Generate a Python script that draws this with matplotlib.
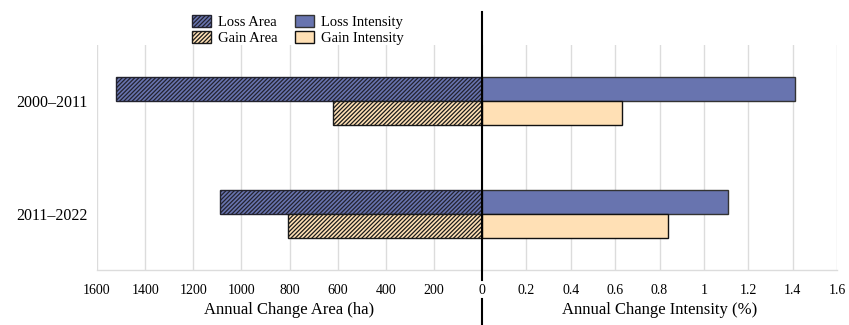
import matplotlib.pyplot as plt
from matplotlib.patches import Patch
from matplotlib.lines import Line2D
import numpy as np

plt.rcParams['font.family'] = ['Liberation Serif', 'DejaVu Serif']
plt.rcParams['font.size'] = 10.5
plt.rcParams['hatch.linewidth'] = 0.9

periods = ['2000\u20132011', '2011\u20132022']
loss_area = [1520, 1090]
gain_area = [620, 805]
loss_intensity = [1.41, 1.11]
gain_intensity = [0.63, 0.84]

area_ticks = [1600, 1400, 1200, 1000, 800, 600, 400, 200, 0]
intensity_ticks = [0, 0.2, 0.4, 0.6, 0.8, 1, 1.2, 1.4, 1.6]

blue = '#6874af'
tan = '#ffe0b5'
grid_col = '#dcdcdc'
hatch = '////////'

fig = plt.figure(figsize=(8.49, 3.25), dpi=100)
ax1 = fig.add_axes([97 / 849, 55 / 325, 385 / 849, 225 / 325])
ax2 = fig.add_axes([482 / 849, 55 / 325, 355 / 849, 225 / 325])

y = np.arange(len(periods))
h = 0.215

ax1.barh(y - h / 2, loss_area, height=h, color=blue, edgecolor='#22222e',
         hatch=hatch, linewidth=1)
ax1.barh(y + h / 2, gain_area, height=h, color=tan, edgecolor='#1a1a1a',
         hatch=hatch, linewidth=1)
ax2.barh(y - h / 2, loss_intensity, height=h, color=blue, edgecolor='#333333',
         linewidth=1)
ax2.barh(y + h / 2, gain_intensity, height=h, color=tan, edgecolor='#111111',
         linewidth=1)

ax1.set_xlim(1600, 0)
ax2.set_xlim(0, 1.6)
for ax in (ax1, ax2):
    ax.set_ylim(1.5, -0.5)
    ax.grid(axis='x', color=grid_col, linewidth=1)
    ax.set_axisbelow(True)
    for s in ('top', 'left', 'right'):
        ax.spines[s].set_visible(False)
    ax.spines['bottom'].set_color(grid_col)
    ax.spines['bottom'].set_linewidth(1)
    ax.tick_params(axis='x', length=0, pad=10, labelsize=10)

ax1.set_xticks(area_ticks)
ax1.set_xticklabels([str(t) for t in area_ticks])
ax2.set_xticks(intensity_ticks)
ax2.set_xticklabels(['' if t == 0 else f'{t:g}' for t in intensity_ticks])

ax1.set_yticks(y)
ax1.set_yticklabels(periods)
ax1.tick_params(axis='y', length=0, pad=7, labelsize=11.5)
ax2.set_yticks([])

ax1.set_xlabel('Annual Change Area (ha)', labelpad=4, fontsize=12)
ax2.set_xlabel('Annual Change Intensity (%)', labelpad=4, fontsize=12)

# center divider, broken around the shared "0" tick label
x0 = 482 / 849
fig.add_artist(Line2D([x0, x0], [1 - 12 / 325, 1 - 280 / 325],
                      color='black', linewidth=1.5))
fig.add_artist(Line2D([x0, x0], [1 - 299 / 325, 0],
                      color='black', linewidth=1.5))

handles = [
    Patch(facecolor=blue, edgecolor='#22222e', hatch=hatch, label='Loss Area'),
    Patch(facecolor=tan, edgecolor='#1a1a1a', hatch=hatch, label='Gain Area'),
    Patch(facecolor=blue, edgecolor='#333333', label='Loss Intensity'),
    Patch(facecolor=tan, edgecolor='#111111', label='Gain Intensity'),
]
fig.legend(handles=handles, ncol=2, loc='upper center',
           bbox_to_anchor=(298 / 849, 1 - 3 / 325), frameon=False,
           handlelength=1.3, handleheight=0.9, handletextpad=0.5,
           columnspacing=1.2, labelspacing=0.15, borderpad=0.3)

fig.savefig('out.png', dpi=100)
